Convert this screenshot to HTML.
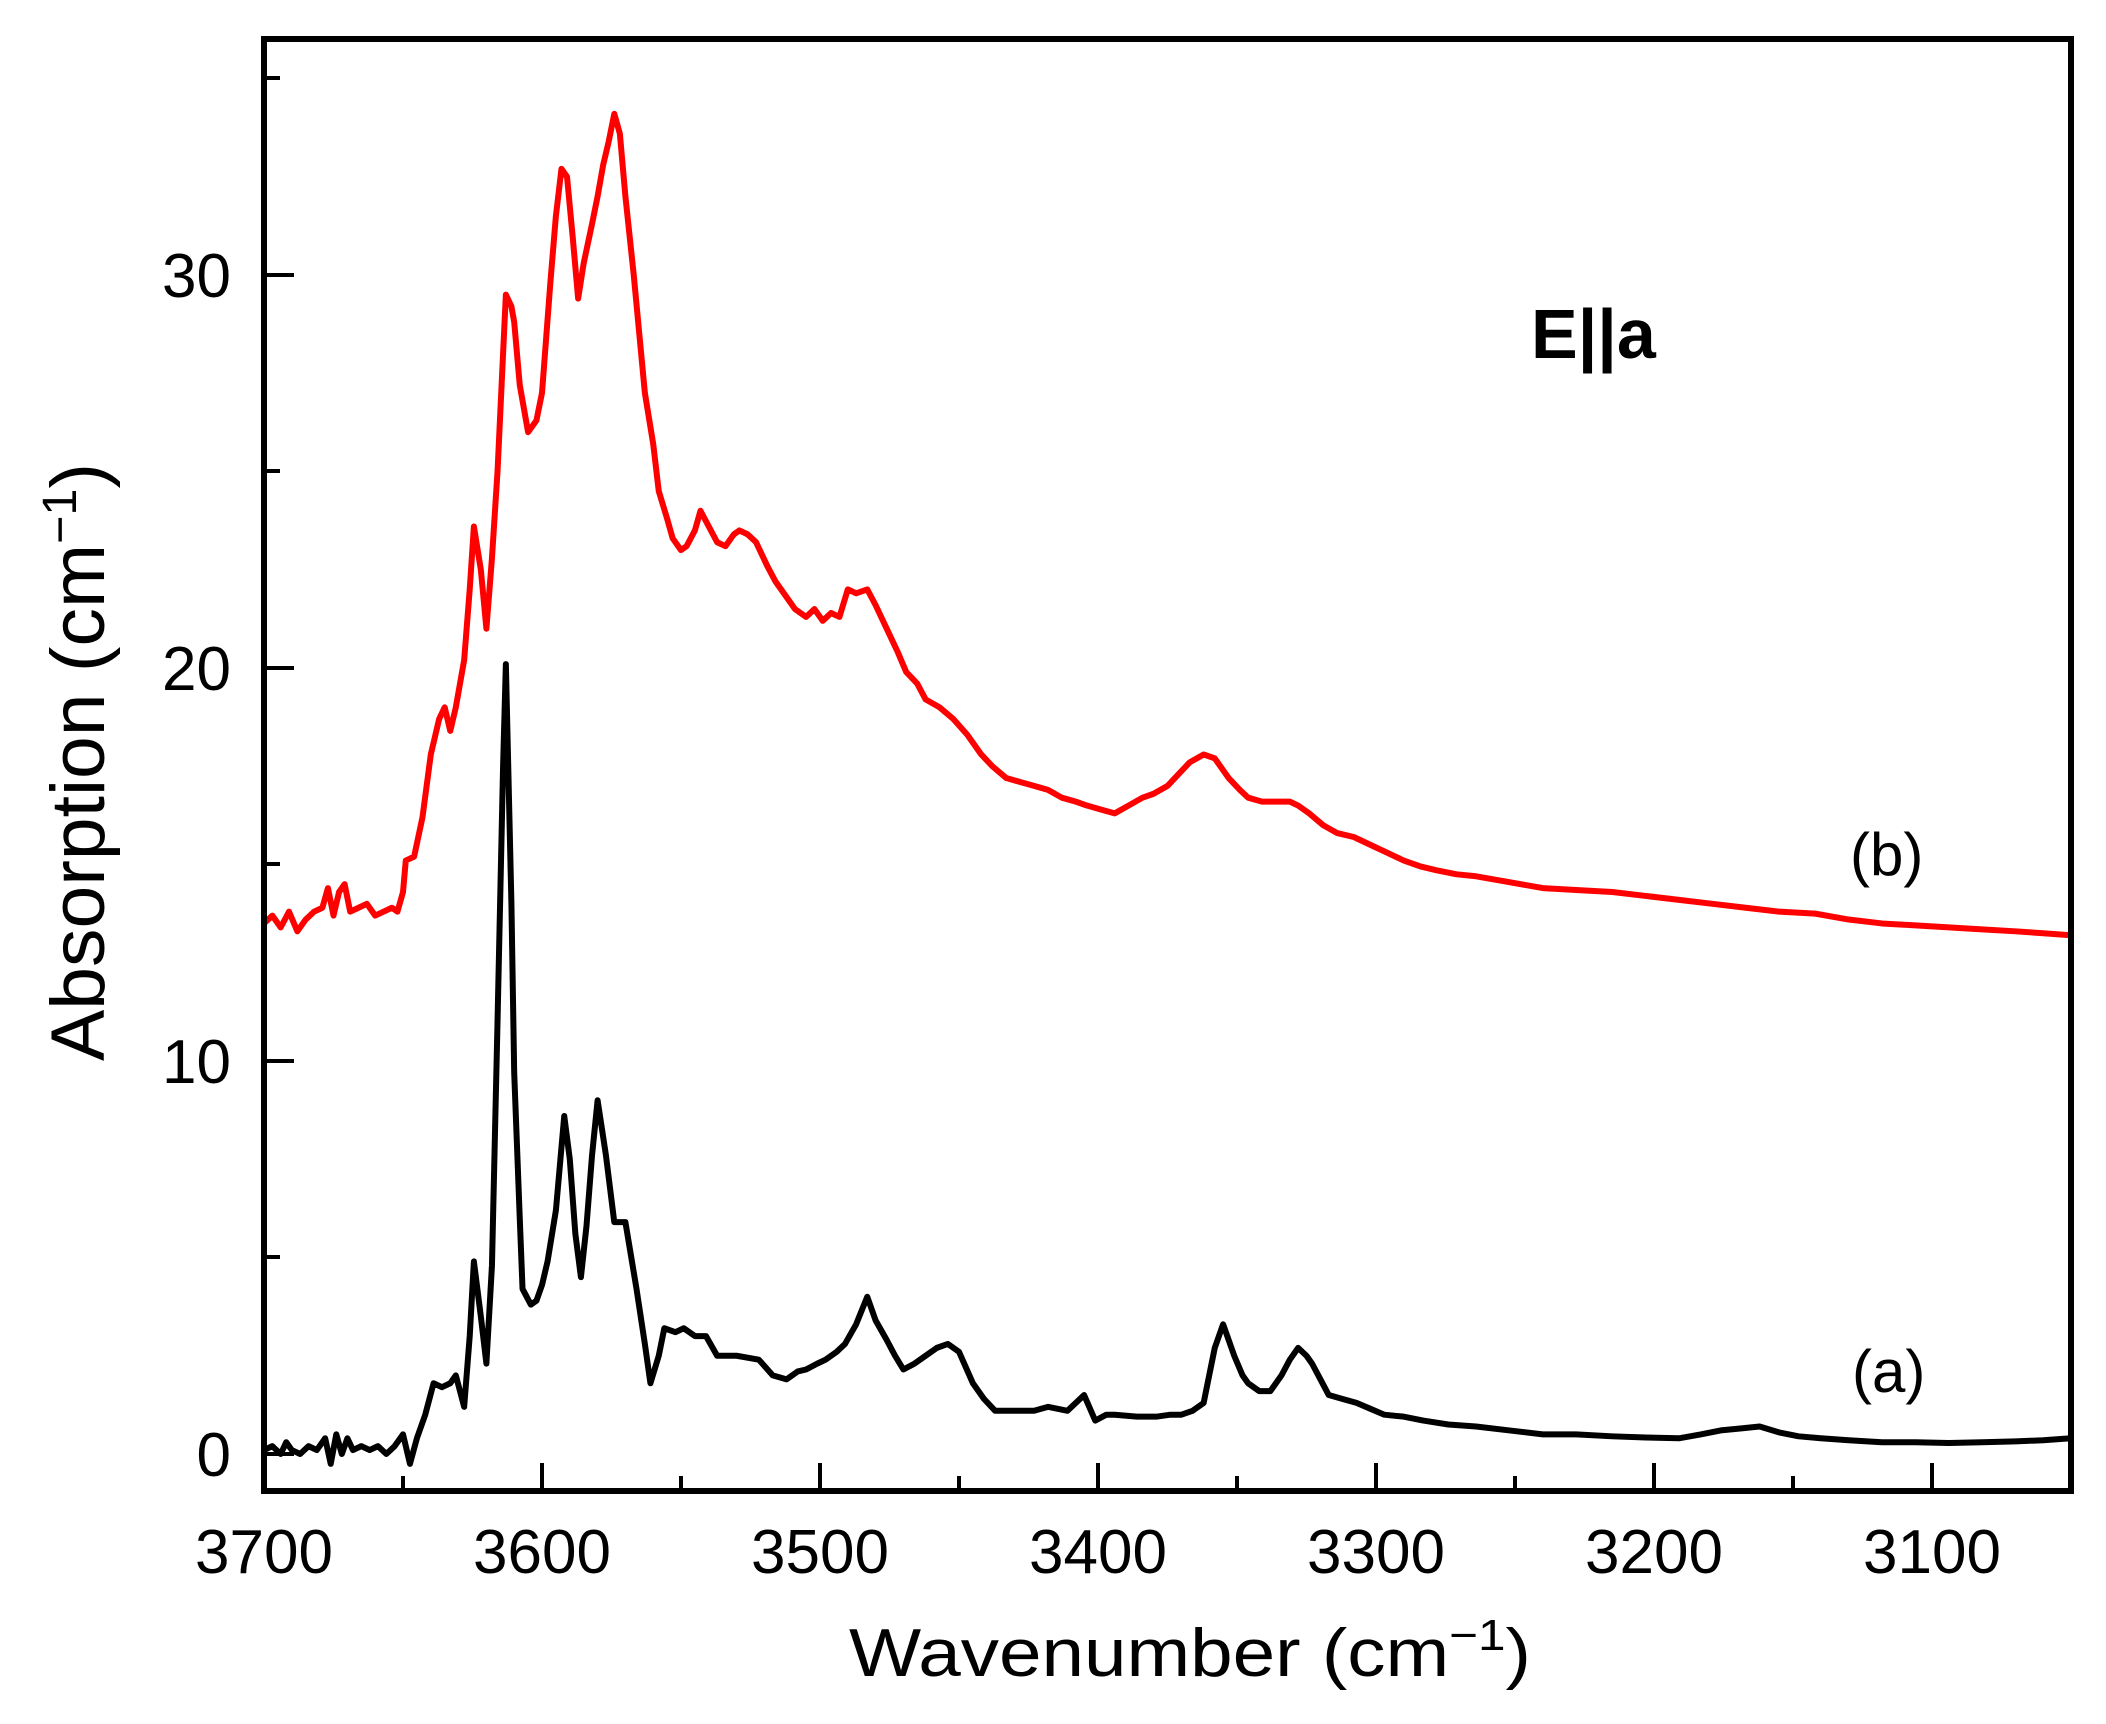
<!DOCTYPE html>
<html><head><meta charset="utf-8"><style>
html,body{margin:0;padding:0;background:#fff;}
svg{display:block;font-family:"Liberation Sans",Arial,sans-serif;}
</style></head><body>
<svg width="2106" height="1724" viewBox="0 0 2106 1724" xmlns="http://www.w3.org/2000/svg">
<rect width="2106" height="1724" fill="#fff"/>
<defs><clipPath id="c"><rect x="264" y="39" width="1807" height="1452"/></clipPath></defs>
<g clip-path="url(#c)">
<g transform="matrix(-2.78 0 0 -39.3 10550 1454)" fill="none" stroke-linejoin="round">
<polyline vector-effect="non-scaling-stroke" stroke="#ff0000" stroke-width="6" points="
3700,13.5 3697,13.7 3694,13.4 3691,13.8 3688,13.3 3685,13.6 3682,13.8 3679,13.9 3677,14.4 3675,13.7 3673,14.3 3671,14.5 3669,13.8 3666,13.9 3663,14.0 3660,13.7 3657,13.8 3654,13.9 3652,13.8 3650,14.3 3649,15.1 3646,15.2 3643,16.2 3640,17.8 3637,18.7 3635,19.0 3633,18.4 3631,19.0 3628,20.2 3626,22.0 3624.5,23.6 3622,22.5 3620,21.0 3618,22.8 3616,25.0 3614,28.0 3613,29.5 3611,29.2 3610,28.8 3608,27.2 3605,26.0 3602,26.3 3600,27.0 3597,29.8 3595,31.5 3593,32.7 3591,32.5 3589,31.0 3587,29.4 3585,30.3 3582,31.3 3580,32.0 3578,32.8 3576,33.4 3574,34.1 3572,33.6 3570,32.0 3567,30.0 3565,28.5 3563,27.0 3560,25.7 3558,24.5 3555,23.8 3553,23.3 3550,23.0 3548,23.1 3545,23.5 3543,24.0 3540,23.6 3537,23.2 3534,23.1 3531,23.4 3529,23.5 3526,23.4 3523,23.2 3519,22.6 3516,22.2 3512,21.8 3509,21.5 3505,21.3 3502,21.5 3499,21.2 3496,21.4 3493,21.3 3490,22.0 3487,21.9 3483,22.0 3480,21.6 3476,21.0 3472,20.4 3469,19.9 3465,19.6 3462,19.2 3457,19.0 3452,18.7 3447,18.3 3442,17.8 3438,17.5 3433,17.2 3428,17.1 3423,17.0 3418,16.9 3413,16.7 3408,16.6 3404,16.5 3399,16.4 3394,16.3 3389,16.5 3384,16.7 3380,16.8 3375,17.0 3371,17.3 3367,17.6 3362,17.8 3358,17.7 3355,17.4 3353,17.2 3349,16.9 3346,16.7 3341,16.6 3336,16.6 3331,16.6 3328,16.5 3324,16.3 3319,16.0 3314,15.8 3308,15.7 3302,15.5 3296,15.3 3290,15.1 3284,14.95 3278,14.85 3271,14.75 3264,14.7 3252,14.55 3240,14.4 3228,14.35 3215,14.3 3203,14.2 3191,14.1 3179,14.0 3167,13.9 3155,13.8 3142,13.75 3130,13.6 3118,13.5 3106,13.45 3094,13.4 3082,13.35 3070,13.3 3060,13.25 3050,13.2"/>
<polyline vector-effect="non-scaling-stroke" stroke="#000" stroke-width="6" points="
3700,0.1 3697,0.2 3694,0.0 3692,0.3 3690,0.1 3687,0.0 3684,0.2 3681,0.1 3678,0.4 3676,-0.25 3674,0.5 3672,0.0 3670,0.4 3668,0.1 3665,0.2 3662,0.1 3659,0.2 3656,0.0 3653,0.2 3650,0.5 3647.5,-0.25 3645,0.4 3642,1.0 3639,1.8 3636,1.7 3633,1.8 3631,2.0 3628,1.2 3626,3.0 3624.5,4.9 3622,3.5 3620,2.3 3618,4.8 3616,11.0 3614,17.5 3613,20.1 3611,14.0 3610,9.7 3608,6.0 3607,4.2 3604,3.8 3602,3.9 3600,4.3 3598,4.9 3595,6.2 3592,8.6 3590,7.5 3588,5.6 3586,4.5 3584,5.8 3582,7.6 3580,9.0 3577,7.6 3574,5.9 3570,5.9 3566,4.2 3563,2.8 3561,1.8 3558,2.5 3556,3.2 3552,3.1 3549,3.2 3545,3.0 3541,3.0 3537,2.5 3530,2.5 3522,2.4 3517,2.0 3512,1.9 3508,2.1 3505,2.15 3501,2.3 3498,2.4 3494,2.6 3491,2.8 3487,3.3 3483,4.0 3480,3.4 3476,2.9 3473,2.5 3470,2.15 3466,2.3 3462,2.5 3458,2.7 3454,2.8 3450,2.6 3445,1.8 3441,1.4 3437,1.1 3432,1.1 3428,1.1 3423,1.1 3418,1.2 3411,1.1 3405,1.5 3401,0.85 3397,1.0 3394,1.0 3386,0.95 3379,0.95 3374,1.0 3370,1.0 3366,1.1 3362,1.3 3360,2.0 3358,2.7 3355,3.3 3353,2.9 3351,2.5 3348,2.0 3346,1.8 3342,1.6 3338,1.6 3334,2.0 3331,2.4 3328,2.7 3325,2.5 3323,2.3 3320,1.9 3317,1.5 3312,1.4 3307,1.3 3302,1.15 3297,1.0 3290,0.95 3283,0.85 3274,0.75 3264,0.7 3252,0.6 3240,0.5 3228,0.5 3215,0.45 3203,0.42 3191,0.4 3183,0.5 3176,0.6 3169,0.65 3162,0.7 3155,0.55 3148,0.45 3140,0.4 3130,0.35 3118,0.3 3106,0.3 3094,0.28 3082,0.3 3070,0.32 3060,0.35 3050,0.4"/>
</g>
</g>
<g stroke="#000" stroke-width="6" fill="none">
<rect x="264" y="39" width="1807" height="1452"/>
</g>
<g stroke="#000" stroke-width="4">
<line x1="264" y1="1454" x2="294" y2="1454"/>
<line x1="264" y1="1061" x2="294" y2="1061"/>
<line x1="264" y1="668" x2="294" y2="668"/>
<line x1="264" y1="275" x2="294" y2="275"/>
<line x1="264" y1="1257" x2="280" y2="1257"/>
<line x1="264" y1="864" x2="280" y2="864"/>
<line x1="264" y1="471" x2="280" y2="471"/>
<line x1="264" y1="78" x2="280" y2="78"/>
<line x1="542" y1="1491" x2="542" y2="1463"/>
<line x1="820" y1="1491" x2="820" y2="1463"/>
<line x1="1098" y1="1491" x2="1098" y2="1463"/>
<line x1="1376" y1="1491" x2="1376" y2="1463"/>
<line x1="1654" y1="1491" x2="1654" y2="1463"/>
<line x1="1932" y1="1491" x2="1932" y2="1463"/>
<line x1="403" y1="1491" x2="403" y2="1476"/>
<line x1="681" y1="1491" x2="681" y2="1476"/>
<line x1="959" y1="1491" x2="959" y2="1476"/>
<line x1="1237" y1="1491" x2="1237" y2="1476"/>
<line x1="1515" y1="1491" x2="1515" y2="1476"/>
<line x1="1793" y1="1491" x2="1793" y2="1476"/>
</g>
<g font-size="62" fill="#000" text-anchor="end">
<text x="231" y="1476">0</text>
<text x="231" y="1083">10</text>
<text x="231" y="690">20</text>
<text x="231" y="297">30</text>
</g>
<g font-size="62" fill="#000" text-anchor="middle">
<text x="264" y="1573">3700</text>
<text x="542" y="1573">3600</text>
<text x="820" y="1573">3500</text>
<text x="1098" y="1573">3400</text>
<text x="1376" y="1573">3300</text>
<text x="1654" y="1573">3200</text>
<text x="1932" y="1573">3100</text>
</g>
<text x="849" y="1676" font-size="68" textLength="682" lengthAdjust="spacingAndGlyphs">Wavenumber (cm<tspan dy="-26" font-size="44">−1</tspan><tspan dy="26">)</tspan></text>
<text transform="translate(104,1061) rotate(-90)" font-size="76" textLength="598" lengthAdjust="spacingAndGlyphs">Absorption (cm<tspan dy="-28" font-size="48">−1</tspan><tspan dy="28">)</tspan></text>
<text x="1531" y="358" font-size="70" font-weight="bold">E||a</text>
<text x="1850" y="875" font-size="60">(b)</text>
<text x="1852" y="1392" font-size="60">(a)</text>
</svg>
</body></html>
